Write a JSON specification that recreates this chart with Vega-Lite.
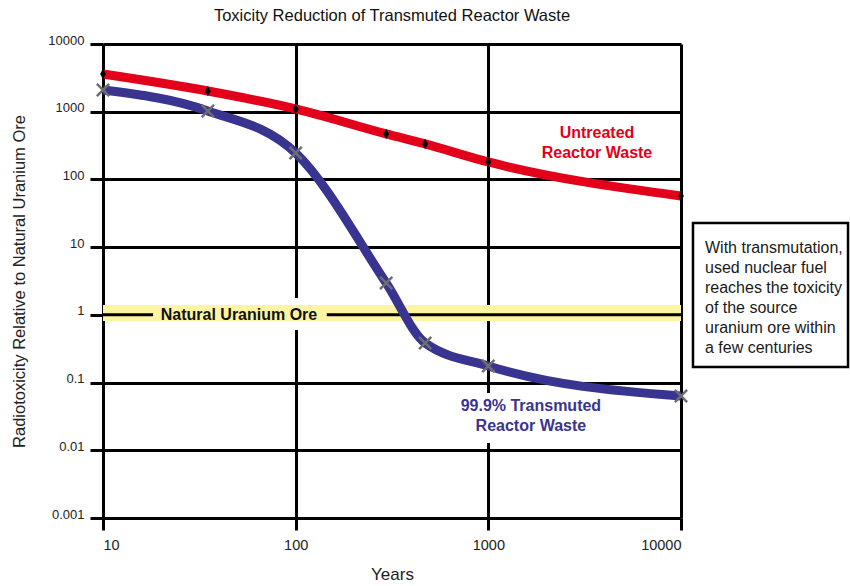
{
  "$schema": "https://vega.github.io/schema/vega-lite/v6.json",
  "width": 578,
  "height": 474,
  "autosize": {"type": "none"},
  "padding": {"left": 103, "top": 44, "right": 169, "bottom": 68},
  "background": "white",
  "config": {"font": "Liberation Sans", "view": {"stroke": null}},
  "title": {
    "text": "Toxicity Reduction of Transmuted Reactor Waste",
    "fontSize": 16.5,
    "fontWeight": "normal",
    "color": "#111111",
    "frame": "group",
    "anchor": "middle",
    "offset": 10
  },
  "datasets": {
    "curves": [
      {"series": "Untreated", "year": 10, "value": 3600},
      {"series": "Untreated", "year": 35, "value": 2020},
      {"series": "Untreated", "year": 100, "value": 1100},
      {"series": "Untreated", "year": 295, "value": 470},
      {"series": "Untreated", "year": 470, "value": 334},
      {"series": "Untreated", "year": 1000, "value": 181},
      {"series": "Untreated", "year": 10000, "value": 57},
      {"series": "Transmuted", "year": 10, "value": 2090},
      {"series": "Transmuted", "year": 35, "value": 1025},
      {"series": "Transmuted", "year": 100, "value": 245},
      {"series": "Transmuted", "year": 295, "value": 2.95},
      {"series": "Transmuted", "year": 470, "value": 0.384},
      {"series": "Transmuted", "year": 1000, "value": 0.176},
      {"series": "Transmuted", "year": 10000, "value": 0.0634}
    ],
    "oreBand": [{"year": 10, "year2": 10000, "value": 1.398, "value2": 0.811}],
    "gaps": [
      {"year": 100, "value": 1.77, "value2": 0.597},
      {"year": 1000, "value": 0.0701, "value2": 0.0128}
    ],
    "oreLine": [
      {"year": 10, "year2": 18.2, "value": 1},
      {"year": 145, "year2": 10000, "value": 1}
    ],
    "oreLabel": [{"year": 50.8, "value": 1, "label": "Natural Uranium Ore"}],
    "seriesLabels": [
      {"series": "Untreated", "year": 3664, "value": 485, "label": "Untreated\nReactor Waste"},
      {"series": "Transmuted", "year": 1663, "value": 0.0451, "label": "99.9% Transmuted\nReactor Waste"}
    ],
    "noteBox": [{"year": 11540, "year2": 73600, "value": 22.7, "value2": 0.17}],
    "noteText": [{"year": 13320, "value": 9.71, "label": "With transmutation,\nused nuclear fuel\nreaches the toxicity\nof  the source\nuranium ore within\na few centuries"}]
  },
  "encoding": {
    "x": {
      "field": "year",
      "type": "quantitative",
      "scale": {"type": "log", "domain": [10, 10000], "nice": false},
      "axis": {
        "values": [10, 100, 1000, 10000],
        "format": "~g",
        "title": "Years",
        "grid": true,
        "gridColor": "black",
        "gridWidth": 3,
        "gridOpacity": 1,
        "domain": false,
        "tickColor": "black",
        "tickWidth": 3,
        "tickSize": 12,
        "labelPadding": 8,
        "labelFontSize": 14.5,
        "labelColor": "#222222",
        "titleFontSize": 17,
        "titleFontWeight": "normal",
        "titleColor": "#222222",
        "titleY": 56,
        "titleBaseline": "middle"
      }
    },
    "y": {
      "field": "value",
      "type": "quantitative",
      "scale": {"type": "log", "domain": [0.001, 10000], "nice": false},
      "axis": {
        "values": [0.001, 0.01, 0.1, 1, 10, 100, 1000, 10000],
        "format": "~g",
        "title": "Radiotoxicity Relative to Natural Uranium Ore",
        "grid": true,
        "gridColor": "black",
        "gridWidth": 3,
        "gridOpacity": 1,
        "domain": false,
        "tickColor": "black",
        "tickWidth": 3,
        "tickSize": 13,
        "labelPadding": 6,
        "labelFontSize": 13,
        "labelBaseline": "alphabetic",
        "labelColor": "#222222",
        "titleFontSize": 16.5,
        "titleFontWeight": "normal",
        "titleColor": "#222222",
        "titleX": -84,
        "titleY": 237,
        "titleAngle": -90,
        "titleAlign": "center",
        "titleBaseline": "middle"
      }
    }
  },
  "layer": [
    {
      "data": {"name": "gaps"},
      "mark": {"type": "rule", "color": "white", "strokeWidth": 5},
      "encoding": {"y2": {"field": "value2"}}
    },
    {
      "data": {"name": "oreBand"},
      "mark": {"type": "rect", "color": "#fdf5a4"},
      "encoding": {"x2": {"field": "year2"}, "y2": {"field": "value2"}}
    },
    {
      "data": {"name": "oreLine"},
      "mark": {"type": "rule", "color": "black", "strokeWidth": 3},
      "encoding": {"x2": {"field": "year2"}}
    },
    {
      "data": {"name": "oreLabel"},
      "mark": {"type": "text", "fontSize": 16, "fontWeight": "bold", "color": "#111111", "baseline": "middle", "align": "center"},
      "encoding": {"text": {"field": "label"}}
    },
    {
      "data": {"name": "curves"},
      "mark": {"type": "line", "interpolate": "monotone", "strokeWidth": 9, "strokeCap": "butt"},
      "encoding": {
        "color": {
          "field": "series",
          "type": "nominal",
          "scale": {"domain": ["Untreated", "Transmuted"], "range": ["#e2001a", "#38348f"]},
          "legend": null
        }
      }
    },
    {
      "data": {"name": "curves"},
      "transform": [{"filter": "datum.series === 'Untreated'"}],
      "mark": {"type": "point", "shape": "M0,-1L0.55,0L0,1L-0.55,0Z", "filled": true, "color": "black", "size": 110, "opacity": 1}
    },
    {
      "data": {"name": "curves"},
      "transform": [{"filter": "datum.series === 'Transmuted'"}],
      "mark": {"type": "point", "shape": "M-1,-1L1,1M-1,1L1,-1", "filled": false, "stroke": "#6e6e6e", "strokeWidth": 2.5, "size": 150, "opacity": 1}
    },
    {
      "data": {"name": "seriesLabels"},
      "mark": {"type": "text", "fontSize": 16, "fontWeight": "bold", "align": "center", "baseline": "middle", "lineHeight": 20, "lineBreak": "\n"},
      "encoding": {
        "text": {"field": "label"},
        "color": {
          "field": "series",
          "type": "nominal",
          "scale": {"domain": ["Untreated", "Transmuted"], "range": ["#e2001a", "#38348f"]},
          "legend": null
        }
      }
    },
    {
      "data": {"name": "noteBox"},
      "mark": {"type": "rect", "fill": "white", "stroke": "black", "strokeWidth": 2.5, "clip": false},
      "encoding": {"x2": {"field": "year2"}, "y2": {"field": "value2"}}
    },
    {
      "data": {"name": "noteText"},
      "mark": {"type": "text", "fontSize": 16, "align": "left", "baseline": "middle", "lineHeight": 20, "color": "#1a1a1a", "clip": false, "lineBreak": "\n"},
      "encoding": {"text": {"field": "label"}}
    }
  ]
}
